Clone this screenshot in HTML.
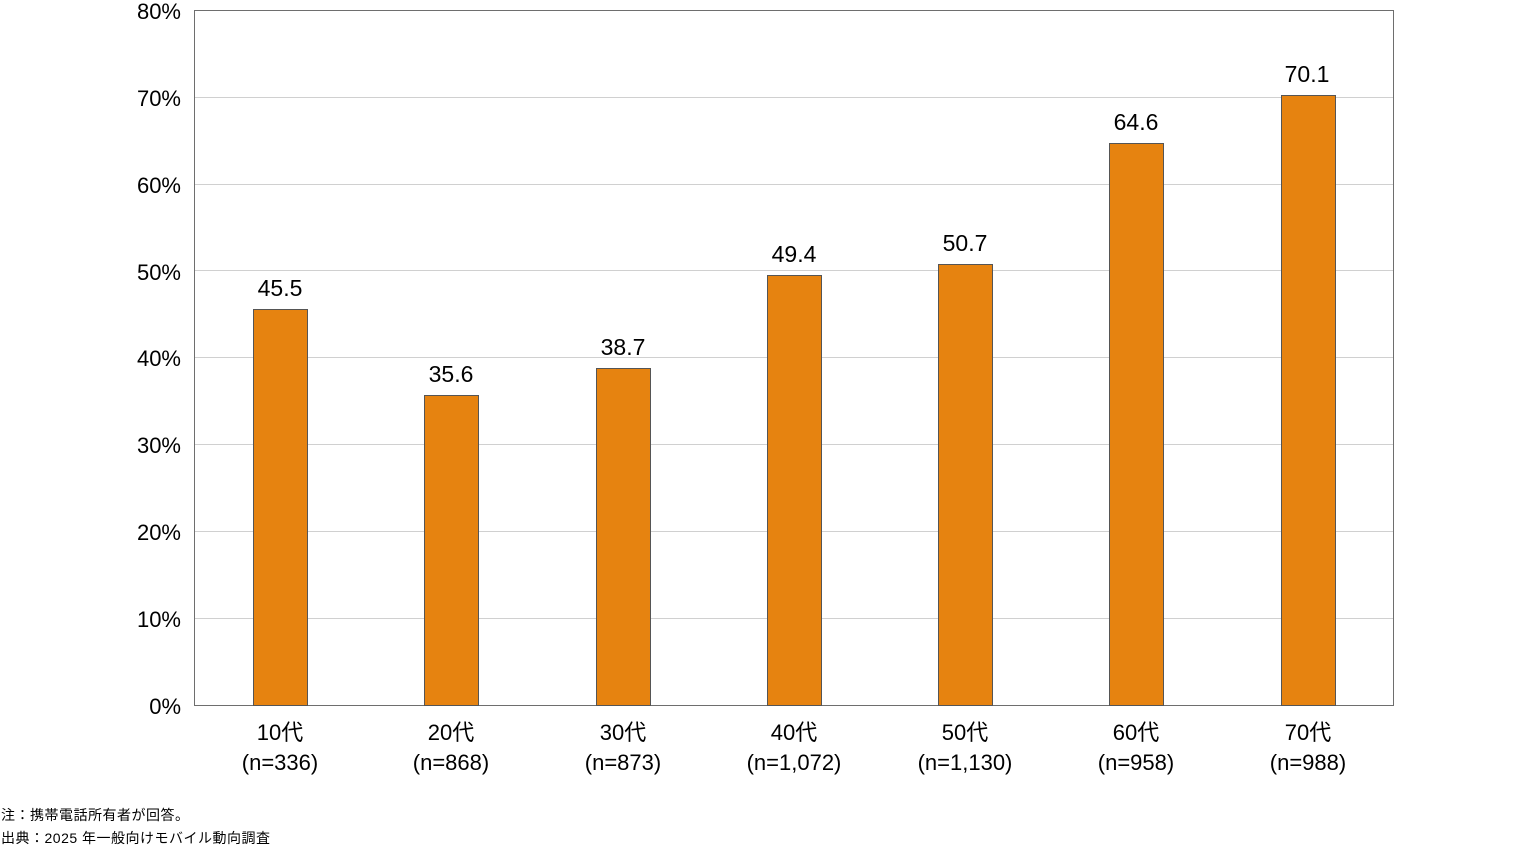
<!DOCTYPE html>
<html><head><meta charset="utf-8"><style>
html,body{margin:0;padding:0;background:#fff;}
svg{display:block;font-family:"Liberation Sans","Noto Sans CJK JP",sans-serif;}
</style></head><body>
<svg width="1518" height="849" xmlns="http://www.w3.org/2000/svg">
<g stroke="#d0d0d0" stroke-width="1">
<line x1="195" x2="1393" y1="97.5" y2="97.5"/>
<line x1="195" x2="1393" y1="184.5" y2="184.5"/>
<line x1="195" x2="1393" y1="270.5" y2="270.5"/>
<line x1="195" x2="1393" y1="357.5" y2="357.5"/>
<line x1="195" x2="1393" y1="444.5" y2="444.5"/>
<line x1="195" x2="1393" y1="531.5" y2="531.5"/>
<line x1="195" x2="1393" y1="618.5" y2="618.5"/>
</g>
<rect x="194.5" y="10.5" width="1199" height="695" fill="none" stroke="#6e6e6e" stroke-width="1"/>
<g font-size="22" fill="#000" text-anchor="end">
<text x="181" y="19">80%</text>
<text x="181" y="106">70%</text>
<text x="181" y="193">60%</text>
<text x="181" y="280">50%</text>
<text x="181" y="366">40%</text>
<text x="181" y="453">30%</text>
<text x="181" y="540">20%</text>
<text x="181" y="627">10%</text>
<text x="181" y="714">0%</text>
</g>
<g fill="#e68310" stroke="#555" stroke-width="1">
<rect x="253.5" y="309.5" width="54" height="396"/>
<rect x="424.5" y="395.5" width="54" height="310"/>
<rect x="596.5" y="368.5" width="54" height="337"/>
<rect x="767.5" y="275.5" width="54" height="430"/>
<rect x="938.5" y="264.5" width="54" height="441"/>
<rect x="1109.5" y="143.5" width="54" height="562"/>
<rect x="1281.5" y="95.5" width="54" height="610"/>
</g>
<g font-size="23" fill="#000" text-anchor="middle">
<text x="280" y="296">45.5</text>
<text x="451" y="382">35.6</text>
<text x="623" y="355">38.7</text>
<text x="794" y="262">49.4</text>
<text x="965" y="251">50.7</text>
<text x="1136" y="130">64.6</text>
<text x="1307" y="82">70.1</text>
</g>
<g font-size="22" fill="#000" text-anchor="middle">
<text x="280" y="740">10代</text><text x="280" y="770">(n=336)</text>
<text x="451" y="740">20代</text><text x="451" y="770">(n=868)</text>
<text x="623" y="740">30代</text><text x="623" y="770">(n=873)</text>
<text x="794" y="740">40代</text><text x="794" y="770">(n=1,072)</text>
<text x="965" y="740">50代</text><text x="965" y="770">(n=1,130)</text>
<text x="1136" y="740">60代</text><text x="1136" y="770">(n=958)</text>
<text x="1308" y="740">70代</text><text x="1308" y="770">(n=988)</text>
</g>
<g font-size="14" fill="#000">
<text x="1" y="820" letter-spacing="0.5">注：携帯電話所有者が回答。</text>
<text x="1" y="843" letter-spacing="0.5">出典：2025 年一般向けモバイル動向調査</text>
</g>
</svg>
</body></html>
